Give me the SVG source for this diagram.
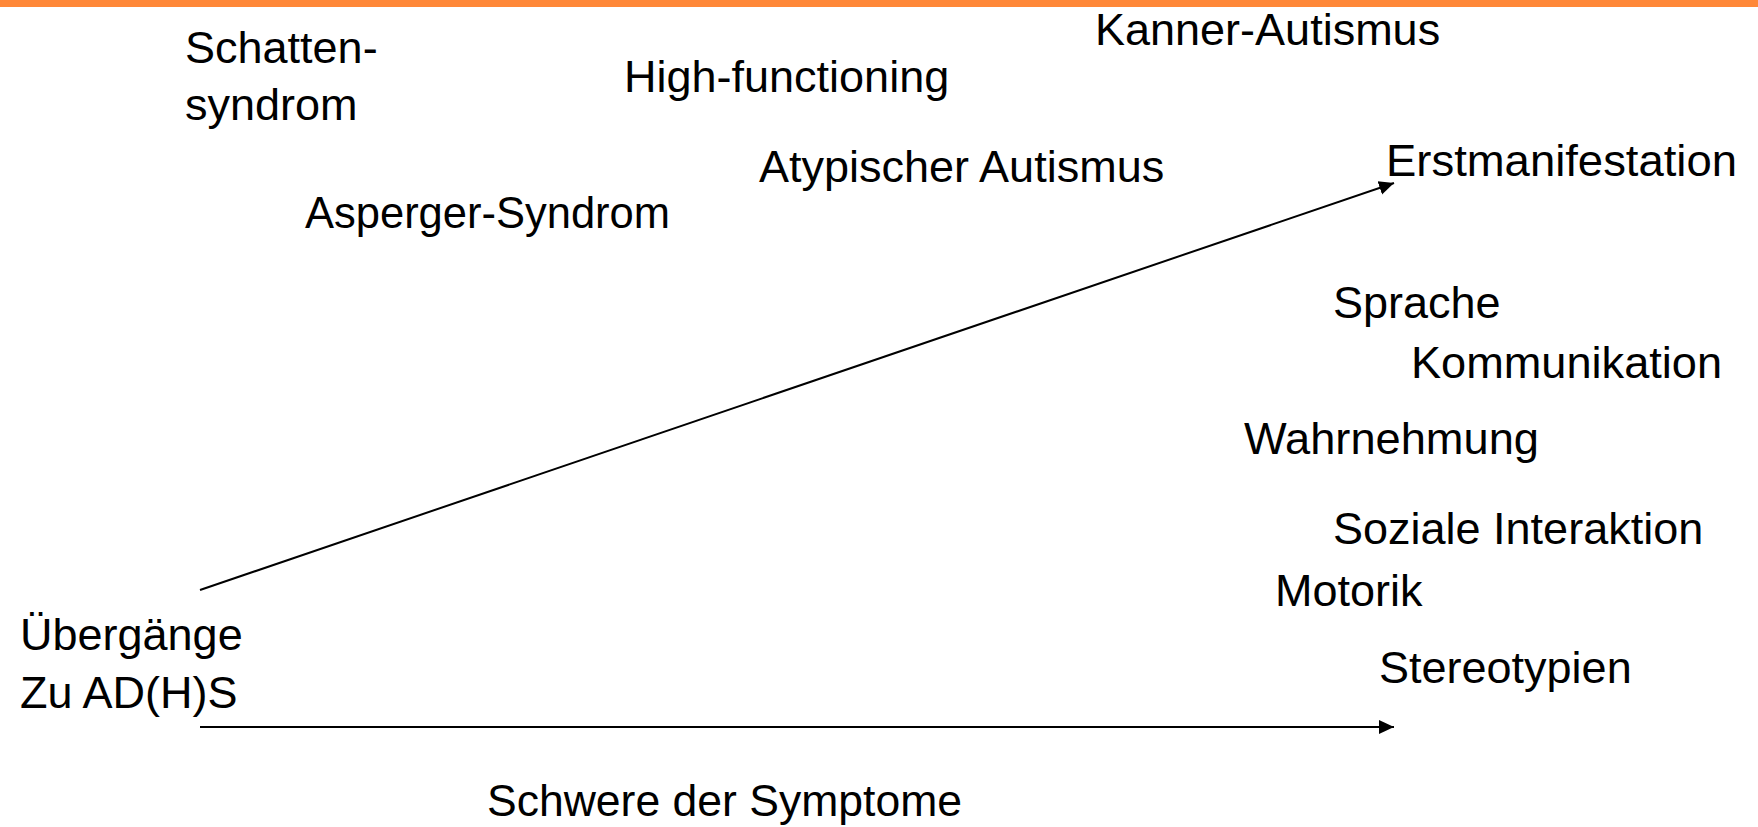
<svg xmlns="http://www.w3.org/2000/svg" width="1758" height="827" viewBox="0 0 1758 827">
<defs>
<style>
text{font-family:"Liberation Sans",Arial,sans-serif;font-size:45px;fill:#000}
.c{stroke:#000;stroke-width:2;fill:none}
</style>
<marker id="ah" markerUnits="userSpaceOnUse" markerWidth="16" markerHeight="16" viewBox="0 0 16 16" refX="15" refY="8" orient="auto">
<path d="M0,1 L15,8 L0,15 Z" fill="#000"/>
</marker>
</defs>
<rect width="1758" height="827" fill="#fff"/>
<rect id="topbar" x="0" y="0" width="1758" height="7" fill="#FF8838"/>
<g id="connectors">
<line class="c" x1="200" y1="590" x2="1394" y2="183" marker-end="url(#ah)"/>
<line class="c" x1="200" y1="727" x2="1394" y2="727" marker-end="url(#ah)"/>
</g>
<g id="schattensyndrom"><text x="185" y="63">Schatten-</text><text x="185" y="120">syndrom</text></g>
<g id="highfunctioning"><text x="624" y="92">High-functioning</text></g>
<g id="kanner"><text x="1095" y="45">Kanner-Autismus</text></g>
<g id="atypisch"><text x="759" y="182">Atypischer Autismus</text></g>
<g id="asperger"><text x="305" y="228" textLength="365" lengthAdjust="spacingAndGlyphs">Asperger-Syndrom</text></g>
<g id="erstmanifestation"><text x="1386" y="176" textLength="351" lengthAdjust="spacingAndGlyphs">Erstmanifestation</text></g>
<g id="sprache"><text x="1333" y="318">Sprache</text></g>
<g id="kommunikation"><text x="1411" y="378" textLength="311" lengthAdjust="spacingAndGlyphs">Kommunikation</text></g>
<g id="wahrnehmung"><text x="1244" y="454" textLength="295" lengthAdjust="spacingAndGlyphs">Wahrnehmung</text></g>
<g id="sozial"><text x="1333" y="544">Soziale Interaktion</text></g>
<g id="motorik"><text x="1275" y="606">Motorik</text></g>
<g id="stereotypien"><text x="1379" y="683">Stereotypien</text></g>
<g id="uebergaenge"><text x="20" y="650">Übergänge</text><text x="20" y="708">Zu AD(H)S</text></g>
<g id="schwere"><text x="487" y="816" textLength="475" lengthAdjust="spacingAndGlyphs">Schwere der Symptome</text></g>
</svg>
